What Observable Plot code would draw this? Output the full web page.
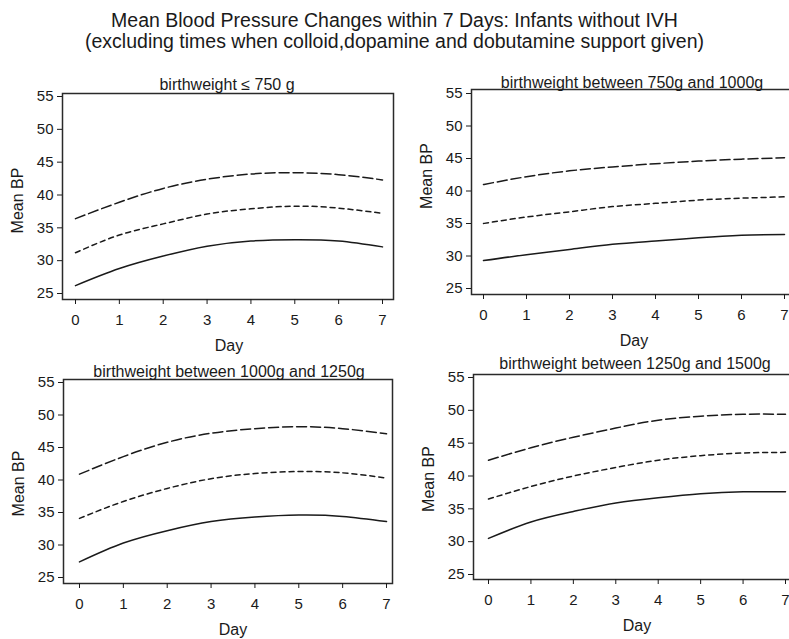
<!DOCTYPE html>
<html><head><meta charset="utf-8">
<script src="https://cdn.jsdelivr.net/npm/d3@7"></script>
<script src="https://cdn.jsdelivr.net/npm/@observablehq/plot@0.6"></script>
<style>
html,body{margin:0;padding:0;background:#fff;overflow:hidden;width:789px;height:639px;}
#chart{position:relative;width:789px;height:639px;overflow:hidden;font-family:"Liberation Sans",Arial,sans-serif;color:#1a1a1a;}
.title{position:absolute;left:0;width:789px;text-align:center;font-size:19.5px;line-height:22px;white-space:nowrap;}
.panel{position:absolute;}
</style></head><body><div id="chart">
<div class="title" style="top:9px">Mean Blood Pressure Changes within 7 Days: Infants without IVH</div>
<div class="title" style="top:30px">(excluding times when colloid,dopamine and dobutamine support given)</div>
</div>
<script>
// ---- data ----
const days = [0, 1, 2, 3, 4, 5, 6, 7];
const yTicks = [25, 30, 35, 40, 45, 50, 55];
const panelTitles = [
  "birthweight \u2264 750 g",
  "birthweight between 750g and 1000g",
  "birthweight between 1000g and 1250g",
  "birthweight between 1250g and 1500g"
];
const xLabel = "Day";
const yLabel = "Mean BP";

// birthweight <= 750 g
const upper750 = [36.4, 38.9, 41.0, 42.4, 43.2, 43.4, 43.1, 42.3];
const mean750  = [31.2, 33.9, 35.6, 37.1, 37.9, 38.3, 38.0, 37.2];
const lower750 = [26.2, 28.8, 30.7, 32.2, 33.0, 33.2, 33.0, 32.1];
// 750 g - 1000 g
const upper1000 = [41.0, 42.2, 43.1, 43.7, 44.2, 44.6, 44.9, 45.1];
const mean1000  = [35.0, 36.0, 36.8, 37.6, 38.1, 38.6, 38.9, 39.1];
const lower1000 = [29.3, 30.2, 31.0, 31.8, 32.3, 32.8, 33.2, 33.3];
// 1000 g - 1250 g
const upper1250 = [40.9, 43.6, 45.8, 47.2, 47.9, 48.2, 47.9, 47.1];
const mean1250  = [34.1, 36.7, 38.7, 40.2, 41.0, 41.3, 41.1, 40.3];
const lower1250 = [27.4, 30.3, 32.2, 33.6, 34.3, 34.6, 34.4, 33.6];
// 1250 g - 1500 g
const upper1500 = [42.4, 44.3, 45.9, 47.3, 48.5, 49.1, 49.4, 49.4];
const mean1500  = [36.5, 38.4, 40.0, 41.3, 42.4, 43.1, 43.5, 43.6];
const lower1500 = [30.5, 33.0, 34.6, 35.9, 36.7, 37.3, 37.6, 37.6];

const panelSeries = [
  [upper750, mean750, lower750],
  [upper1000, mean1000, lower1000],
  [upper1250, mean1250, lower1250],
  [upper1500, mean1500, lower1500]
];

// ---- layout ----
const layouts = [
  {left: 0,   top: 60,  width: 400, height: 300, fl: 62,  ft: 93,  fr: 393, fb: 299, inL: 13, inR: 11, inT: 3, inB: 6, tdy: -9,  tdx: -2, ydy: 4},
  {left: 395, top: 60,  width: 410, height: 300, fl: 471, ft: 89,  fr: 792, fb: 294, inL: 12, inR: 8,  inT: 4, inB: 6, tdy: -7,  tdx: -2, ydy: -16},
  {left: 0,   top: 340, width: 400, height: 299, fl: 63,  ft: 379, fr: 392, fb: 583, inL: 16, inR: 6,  inT: 3, inB: 6, tdy: -8,  tdx: -4, ydy: 2},
  {left: 395, top: 340, width: 410, height: 299, fl: 473, ft: 374, fr: 797, fb: 579, inL: 15, inR: 12, inT: 3, inB: 5, tdy: -11, tdx: -2, ydy: 2}
];
const dashes = ["10,4", "5,4", null];
const ink = "#1a1a1a";

const chart = document.getElementById("chart");
layouts.forEach((L, p) => {
  const series = panelSeries[p];
  const lineMarks = series.map((vals, s) => Plot.line(vals, {
    x: (d, i) => days[i], y: d => d, curve: "natural",
    stroke: ink, strokeWidth: 1.5,
    strokeDasharray: dashes[s] || undefined
  }));
  const svg = Plot.plot({
    width: L.width, height: L.height,
    marginLeft: L.fl - L.left, marginTop: L.ft - L.top,
    marginRight: L.left + L.width - L.fr, marginBottom: L.top + L.height - L.fb,
    x: {domain: [0, 7], insetLeft: L.inL, insetRight: L.inR},
    y: {domain: [25, 55], insetTop: L.inT, insetBottom: L.inB},
    style: {fontFamily: '"Liberation Sans", Arial, sans-serif', fontSize: "15px", color: ink, background: "transparent", overflow: "visible"},
    marks: [
      Plot.frame({stroke: "#2a2a2a", strokeWidth: 1.5}),
      Plot.axisX(days, {tickSize: 5, tickPadding: 10, label: null, stroke: ink, fontSize: 15}),
      Plot.axisY(yTicks, {tickSize: 5, tickPadding: 4, label: null, stroke: ink, fontSize: 15}),
      ...lineMarks,
      Plot.text([panelTitles[p]], {x: [3.5], frameAnchor: "top", dy: L.tdy, dx: L.tdx, fontSize: 16, lineAnchor: "middle", fill: ink}),
      Plot.text([xLabel], {x: [3.5], frameAnchor: "bottom", dy: 46, fontSize: 16, lineAnchor: "middle", fill: ink}),
      Plot.text([yLabel], {frameAnchor: "left", dx: -45, dy: L.ydy, rotate: -90, fontSize: 16, textAnchor: "middle", lineAnchor: "middle", fill: ink})
    ]
  });
  svg.classList.add("panel");
  svg.style.left = L.left + "px";
  svg.style.top = L.top + "px";
  chart.appendChild(svg);
});
</script>
</body></html>
